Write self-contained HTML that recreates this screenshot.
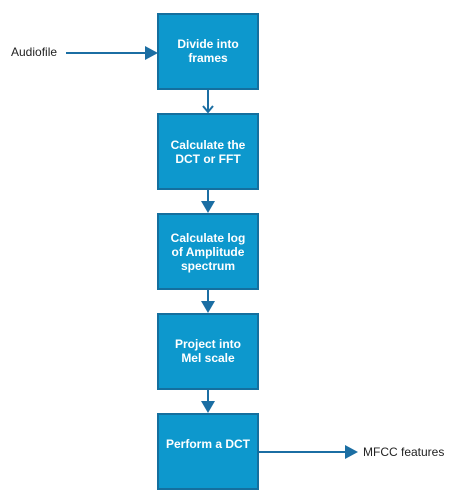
<!DOCTYPE html>
<html><head><style>
body{margin:0;background:#fff;width:458px;height:501px;overflow:hidden;}
svg{display:block;}
text{font-family:"Liberation Sans",Arial,sans-serif;font-size:12px;}
.b{fill:#0d98cd;stroke:#146f9e;stroke-width:2;}
.t{fill:#fff;font-weight:bold;text-anchor:middle;}
.l{stroke:#1b6ea3;stroke-width:2;fill:none;}
.h{fill:#1b6ea3;}
</style></head><body>
<svg width="458" height="501" viewBox="0 0 458 501">
<rect class="b" x="158" y="14" width="100" height="75"/>
<rect class="b" x="158" y="114" width="100" height="75"/>
<rect class="b" x="158" y="214" width="100" height="75"/>
<rect class="b" x="158" y="314" width="100" height="75"/>
<rect class="b" x="158" y="414" width="100" height="75"/>
<text class="t" x="208" y="48">Divide into</text>
<text class="t" x="208" y="62">frames</text>
<text class="t" x="208" y="149">Calculate the</text>
<text class="t" x="208" y="163">DCT or FFT</text>
<text class="t" x="208" y="242">Calculate log</text>
<text class="t" x="208" y="256">of Amplitude</text>
<text class="t" x="208" y="270">spectrum</text>
<text class="t" x="208" y="348">Project into</text>
<text class="t" x="208" y="362">Mel scale</text>
<text class="t" x="208" y="448">Perform a DCT</text>
<text x="11" y="56" fill="#222">Audiofile</text>
<text x="363" y="456" fill="#222">MFCC features</text>
<line class="l" x1="66" y1="53" x2="146" y2="53"/>
<polygon class="h" points="145,46 158,53 145,60"/>
<line class="l" x1="259" y1="452" x2="347" y2="452"/>
<polygon class="h" points="345,445 358,452 345,459"/>
<line class="l" x1="208" y1="90" x2="208" y2="112"/>
<polyline class="l" points="203,106 208,112 213,106"/>
<line class="l" x1="208" y1="190" x2="208" y2="202"/>
<polygon class="h" points="201,201 215,201 208,213"/>
<line class="l" x1="208" y1="290" x2="208" y2="302"/>
<polygon class="h" points="201,301 215,301 208,313"/>
<line class="l" x1="208" y1="390" x2="208" y2="402"/>
<polygon class="h" points="201,401 215,401 208,413"/>
</svg>
</body></html>
